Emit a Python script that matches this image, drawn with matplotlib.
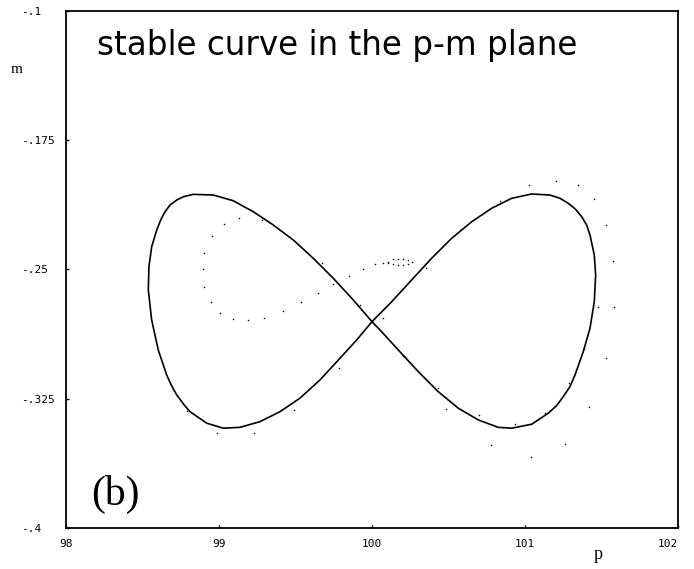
import matplotlib
matplotlib.use("Agg")
import matplotlib.pyplot as plt

# stable curve (figure eight), one closed path
curve_p = [100.000, 99.878, 99.747, 99.616, 99.486, 99.355, 99.224, 99.093, 98.963, 98.832,
           98.767, 98.724, 98.680, 98.647, 98.619, 98.593, 98.560, 98.542, 98.538, 98.560,
           98.603, 98.658, 98.691, 98.724, 98.767, 98.810, 98.920, 99.028, 99.137, 99.268,
           99.399, 99.529, 99.660, 99.791, 99.900,
           100.000, 100.129, 100.259, 100.390, 100.521, 100.652, 100.782, 100.913, 101.044, 101.163,
           101.229, 101.283, 101.331, 101.371, 101.403, 101.425, 101.453, 101.462, 101.453, 101.425,
           101.381, 101.327, 101.294, 101.250, 101.207, 101.152, 101.044, 100.913, 100.825, 100.695,
           100.564, 100.433, 100.303, 100.172, 100.063, 100.000]
curve_m = [-0.2803, -0.2677, -0.2551, -0.2435, -0.2329, -0.2242, -0.2165, -0.2101, -0.2068, -0.2064,
           -0.2078, -0.2097, -0.2126, -0.2165, -0.2213, -0.2271, -0.2368, -0.2484, -0.2619, -0.2793,
           -0.2967, -0.3112, -0.3176, -0.3228, -0.3280, -0.3325, -0.3392, -0.3421, -0.3416, -0.3383,
           -0.3325, -0.3247, -0.3141, -0.3015, -0.2909,
           -0.2803, -0.2687, -0.2561, -0.2435, -0.2319, -0.2223, -0.2145, -0.2087, -0.2062, -0.2068,
           -0.2087, -0.2116, -0.2151, -0.2194, -0.2242, -0.2300, -0.2416, -0.2532, -0.2687, -0.2841,
           -0.2977, -0.3112, -0.3180, -0.3238, -0.3290, -0.3334, -0.3398, -0.3421, -0.3416, -0.3373,
           -0.3305, -0.3209, -0.3093, -0.2967, -0.2861, -0.2803]

# iterated points (dots)
dots_p = [99.133, 99.033, 99.279, 98.952, 98.904, 98.893, 98.904, 98.946, 99.007, 99.090,
          99.192, 99.294, 99.416, 99.536, 99.645, 99.743, 99.850, 99.939, 100.020,
          100.074, 100.107, 100.139, 100.172, 100.205, 100.237, 100.259, 100.237, 100.205, 100.172,
          100.139, 100.107,
          99.671, 99.922, 100.074, 99.786, 99.490, 99.229, 98.989, 98.793, 100.201, 100.351,
          100.484, 100.776, 101.037, 101.261, 101.420, 101.531, 101.584, 101.573, 101.531, 101.453,
          101.346, 101.201, 101.028, 100.837, 101.283, 101.479, 101.386, 101.290, 101.129, 100.935,
          100.699, 100.433]
dots_m = [-0.2199, -0.2234, -0.2215, -0.2304, -0.2403, -0.2499, -0.2600, -0.2689, -0.2751, -0.2786,
          -0.2795, -0.2780, -0.2741, -0.2689, -0.2636, -0.2584, -0.2538, -0.2499, -0.2470,
          -0.2461, -0.2455, -0.2441, -0.2439, -0.2441, -0.2445, -0.2455, -0.2468, -0.2472, -0.2472,
          -0.2468, -0.2464,
          -0.2461, -0.2706, -0.2780, -0.3073, -0.3315, -0.3450, -0.3450, -0.3321, -0.3004, -0.2493,
          -0.3308, -0.3518, -0.3591, -0.3511, -0.3300, -0.3012, -0.2719, -0.2449, -0.2242, -0.2093,
          -0.2010, -0.1986, -0.2010, -0.2103, -0.2116, -0.2718, -0.2957, -0.3160, -0.3331, -0.3397,
          -0.3344, -0.3189]

x_ticks = [98, 99, 100, 101, 102]
x_labels = ['98', '99', '100', '101', '102']
y_ticks = [-0.1, -0.175, -0.25, -0.325, -0.4]
y_labels = ['-.1', '-.175', '-.25', '-.325', '-.4']

fig = plt.figure(figsize=(6.94, 5.69), dpi=100)
fig.set_facecolor('white')
ax = fig.add_axes([0.0951, 0.0721, 0.8818, 0.9086])

ax.plot(curve_p, curve_m, color='black', linewidth=1.2)
ax.scatter(dots_p, dots_m, s=1.2, color='black', linewidths=0)

ax.set_xlim(98, 102)
ax.set_ylim(-0.4, -0.1)
ax.set_xticks(x_ticks)
ax.set_xticklabels(x_labels, family='DejaVu Sans Mono', fontsize=8)
ax.set_yticks(y_ticks)
ax.set_yticklabels(y_labels, family='DejaVu Sans Mono', fontsize=8, ha='left')
ax.tick_params(axis='x', direction='in', length=2.5, width=1, pad=8)
ax.tick_params(axis='y', direction='in', length=2.5, width=1, pad=32.4)
ax.get_xticklabels()[-1].set_ha('right')
for s in ax.spines.values():
    s.set_linewidth(1.3)

ax.set_xlabel('p', family='Liberation Serif', fontsize=13)
ax.xaxis.set_label_coords(0.869, -0.035)
ax.set_ylabel('m', family='Liberation Serif', fontsize=11, rotation=0)
ax.yaxis.set_label_coords(-0.080, 0.875)

ax.text(0.0507, 0.934, 'stable curve in the p-m plane', transform=ax.transAxes,
        family='DejaVu Sans', fontsize=23.5, ha='left', va='center')
ax.text(0.0417, 0.064, '(b)', transform=ax.transAxes,
        family='Liberation Serif', fontsize=30, ha='left', va='center')

fig.savefig('out.png', dpi=100, facecolor='white')
